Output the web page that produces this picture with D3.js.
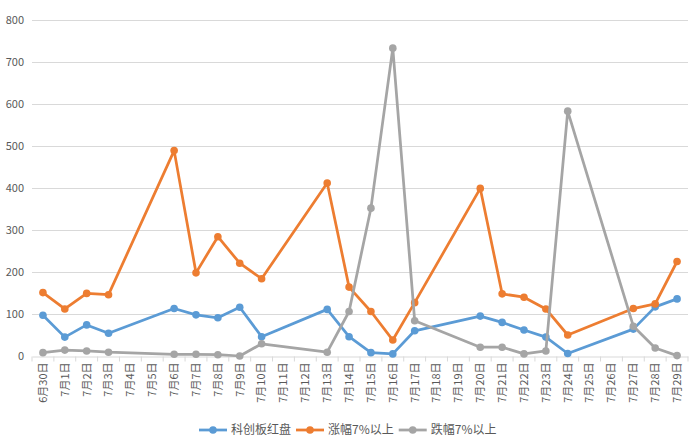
<html>
<head>
<meta charset="utf-8">
<style type="text/css">
	body { margin: 0; background: #fff; }
	text { font-family: "Noto Sans CJK SC", "Noto Sans", sans-serif; fill: #595959; }
</style>
<script src="https://cdn.jsdelivr.net/npm/d3@7"></script>
</head>
<body>
<div id="chart"></div>
<script>

// x categories (trading days plus weekend gaps)
var days = ["6月30日","7月1日","7月2日","7月3日","7月4日","7月5日","7月6日","7月7日","7月8日","7月9日",
            "7月10日","7月11日","7月12日","7月13日","7月14日","7月15日","7月16日","7月17日","7月18日","7月19日",
            "7月20日","7月21日","7月22日","7月23日","7月24日","7月25日","7月26日","7月27日","7月28日","7月29日"];

var seriesNames = ["科创板红盘", "涨幅7%以上", "跌幅7%以上"];

// null = no trading that day
var redCount  = [97,45,74,54,null,null,113,98,91,116,46,null,null,111,46,8,5,60,null,null,95,80,62,45,6,null,null,64,117,136];
var upCount   = [151,112,149,146,null,null,489,198,284,221,184,null,null,412,164,106,38,127,null,null,399,148,140,112,50,null,null,113,124,225];
var downCount = [8,14,12,9,null,null,4,4,3,0,29,null,null,9,106,352,733,84,null,null,21,21,5,12,583,null,null,71,19,1];

var yTicks = [0,100,200,300,400,500,600,700,800];
var colors = ["#5B9BD5", "#ED7D31", "#A5A5A5"];

function drawChart(id, width, height)
{
    var svg = d3.select(id).append("svg")
                .attr("width", width)
                .attr("height", height);

    var left = 32, right = 688, top = 20, bottom = 356;

    var x = d3.scaleBand().domain(days).range([left, right]);
    var y = d3.scaleLinear().domain([0, 800]).range([bottom, top]);

    // grid
    svg.append("g").selectAll("line")
        .data(yTicks.slice(1))
      .enter().append("line")
        .attr("x1", left).attr("x2", right)
        .attr("y1", function(d) { return y(d) + 0.5; })
        .attr("y2", function(d) { return y(d) + 0.5; })
        .style("stroke", "#d9d9d9");

    // y axis labels
    var yAxis = svg.append("g")
        .attr("transform", "translate(" + left + ",0)")
        .call(d3.axisLeft(y).tickValues(yTicks).tickSize(0).tickPadding(8));
    yAxis.select(".domain").remove();
    yAxis.selectAll("text")
        .style("font-size", "11px")
        .style("fill", "#595959")
        .style("font-family", "'Noto Sans CJK SC', sans-serif");

    // x axis
    var xAxis = svg.append("g")
        .attr("transform", "translate(0," + (bottom + 0.5) + ")")
        .call(d3.axisBottom(x).tickSize(0).tickPadding(0));
    xAxis.select(".domain").style("stroke", "#d9d9d9");
    // tick marks between categories
    xAxis.selectAll(".sep")
        .data(d3.range(days.length + 1))
      .enter().append("line")
        .attr("class", "sep")
        .attr("x1", function(i) { return left + i * x.step(); })
        .attr("x2", function(i) { return left + i * x.step(); })
        .attr("y1", 0).attr("y2", 5)
        .style("stroke", "#d9d9d9");
    xAxis.selectAll(".tick text")
        .attr("transform", "rotate(-90)")
        .attr("x", -6)
        .attr("y", 0)
        .attr("dy", "0.35em")
        .style("text-anchor", "end")
        .style("font-size", "11px")
        .style("fill", "#595959")
        .style("font-family", "'Noto Sans CJK SC', sans-serif");

    var allData = [redCount, upCount, downCount];

    allData.forEach(function(vals, s) {
        var pts = [];
        vals.forEach(function(v, i) {
            if (v !== null) pts.push({ day: days[i], value: v });
        });

        var line = d3.line()
            .x(function(d) { return x(d.day) + x.bandwidth() / 2; })
            .y(function(d) { return y(d.value); });

        svg.append("path")
            .datum(pts)
            .attr("d", line)
            .style("fill", "none")
            .style("stroke", colors[s])
            .style("stroke-width", 2.75)
            .style("stroke-linejoin", "round");

        svg.append("g").selectAll("circle")
            .data(pts)
          .enter().append("circle")
            .attr("cx", function(d) { return x(d.day) + x.bandwidth() / 2; })
            .attr("cy", function(d) { return y(d.value); })
            .attr("r", 3.8)
            .style("fill", colors[s]);
    });

    // legend, laid out from text widths and centred
    var legend = svg.append("g");
    var xpos = 0;
    seriesNames.forEach(function(name, s) {
        var g = legend.append("g").attr("transform", "translate(" + xpos + ",0)");
        g.append("line")
            .attr("x1", 0).attr("x2", 28)
            .style("stroke", colors[s])
            .style("stroke-width", 2.75);
        g.append("circle")
            .attr("cx", 14).attr("r", 3.8)
            .style("fill", colors[s]);
        var t = g.append("text")
            .attr("x", 32)
            .attr("dy", "0.35em")
            .style("font-size", "12px")
            .text(name);
        xpos += 32 + t.node().getComputedTextLength() + 5;
    });
    legend.attr("transform", "translate(" + Math.round(348 - (xpos - 5) / 2) + ",430)");
}

drawChart('#chart', 698, 440);
</script>
</body>
</html>
